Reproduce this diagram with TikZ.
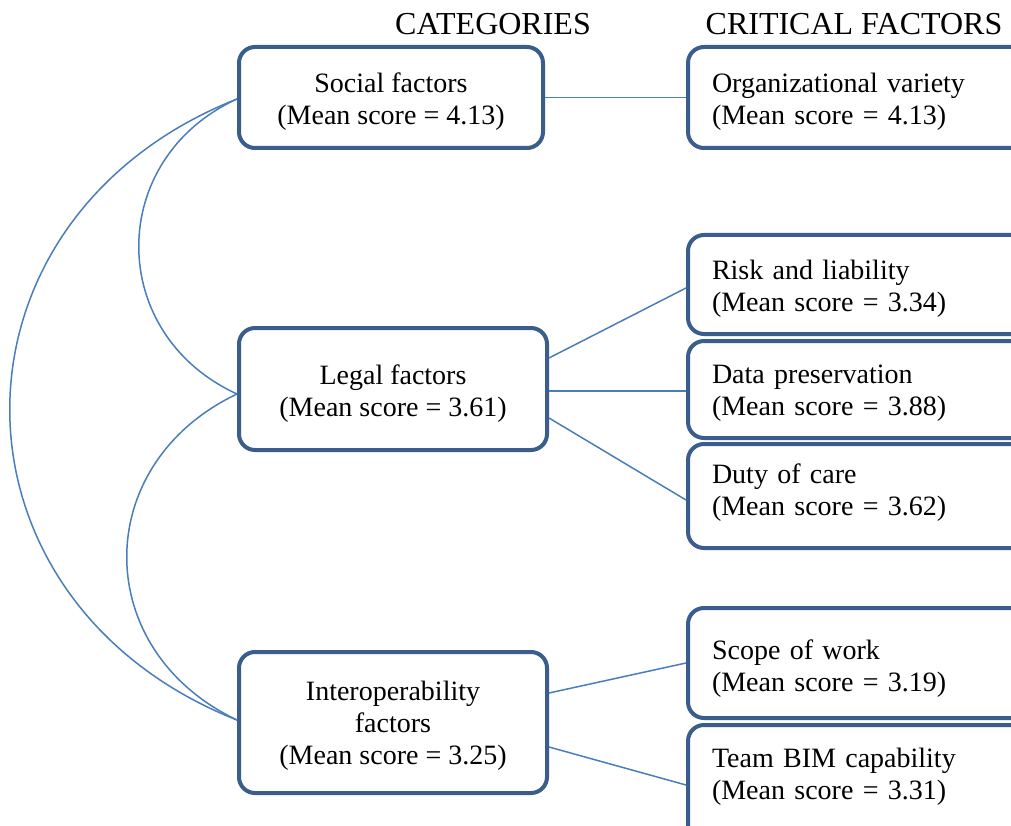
\documentclass[tikz,border=0pt]{standalone}
\usepackage{fontspec}
\setmainfont{Liberation Serif}
\definecolor{boxc}{RGB}{59,93,140}
\definecolor{linec}{RGB}{74,126,187}
\newcommand{\tup}[1]{\rule{0pt}{#1}}
\tikzset{
  txt/.style={font=\fontsize{28}{32}\selectfont},
  catbox/.style={txt, draw=boxc, line width=4pt, rounded corners=16pt, align=center, inner sep=0pt},
  critbox/.style={txt, draw=boxc, line width=4pt, rounded corners=16pt, align=left, inner xsep=24pt, inner ysep=0pt, text width=296pt, anchor=west},
  conn/.style={draw=linec, line width=1.5pt},
  head/.style={font=\fontsize{32}{36}\selectfont, inner sep=0pt}
}
\begin{document}
\begin{tikzpicture}[x=1pt,y=-1pt]
\useasboundingbox (0,0) rectangle (1011,826);
\clip (0,0) rectangle (1011,826);
\fill[white] (0,0) rectangle (1011,826);
% headers
\node[head] (h1) at (493,24) {CATEGORIES};
\node[head] (h2) at (854,24) {CRITICAL FACTORS};
% categories
\node[catbox, minimum width=304pt, minimum height=101pt] (soc) at (391,97.5) {\tup{27pt}Social factors\\(Mean score = 4.13)};
\node[catbox, minimum width=308pt, minimum height=122pt] (leg) at (393,389) {\tup{28pt}Legal factors\\(Mean score = 3.61)};
\node[catbox, minimum width=308pt, minimum height=141pt] (int) at (393,722.5) {\tup{25pt}Interoperability\\factors\\(Mean score = 3.25)};
% critical factors
\node[critbox, minimum height=101pt] (org) at (686,97.5) {\tup{27pt}Organizational variety\\(Mean score = 4.13)};
\node[critbox, minimum height=99pt] (risk) at (686,284.5) {\tup{27pt}Risk and liability\\(Mean score = 3.34)};
\node[critbox, minimum height=97pt] (data) at (686,389.5) {\tup{26pt}Data preservation\\(Mean score = 3.88)};
\node[critbox, minimum height=104pt] (duty) at (686,496) {\tup{26pt}Duty of care\\(Mean score = 3.62)\rule[-20pt]{0pt}{20pt}};
\node[critbox, minimum height=110pt] (scope) at (686,663) {\tup{31pt}Scope of work\\(Mean score = 3.19)};
\node[critbox, minimum height=115pt] (team) at (686,782.5) {\tup{26pt}Team BIM capability\\(Mean score = 3.31)\rule[-25pt]{0pt}{25pt}};
% straight connectors
\draw[conn] (soc.east) -- (org.west);
\draw[conn] ([yshift=31pt]leg.east) -- ([yshift=-3.5pt]risk.west);
\draw[conn] ([yshift=-2pt]leg.east) -- ([yshift=-1.5pt]data.west);
\draw[conn] ([yshift=-29pt]leg.east) -- ([yshift=-4pt]duty.west);
\draw[conn] ([yshift=29.5pt]int.east) -- (scope.west);
\draw[conn] ([yshift=-24.5pt]int.east) -- ([yshift=-2.5pt]team.west);
% curved connectors
\coordinate (sw) at ([yshift=-1.5pt]soc.west);
\coordinate (lw) at ([yshift=-5pt]leg.west);
\coordinate (iw) at ([yshift=2.5pt]int.west);
\draw[conn] (sw) .. controls +(-131,60) and +(-131,-60) .. (lw);
\draw[conn] (sw) .. controls +(-303,120) and +(-303,-120) .. (iw);
\draw[conn] (lw) .. controls +(-147,70) and +(-147,-70) .. (iw);
\end{tikzpicture}
\end{document}
